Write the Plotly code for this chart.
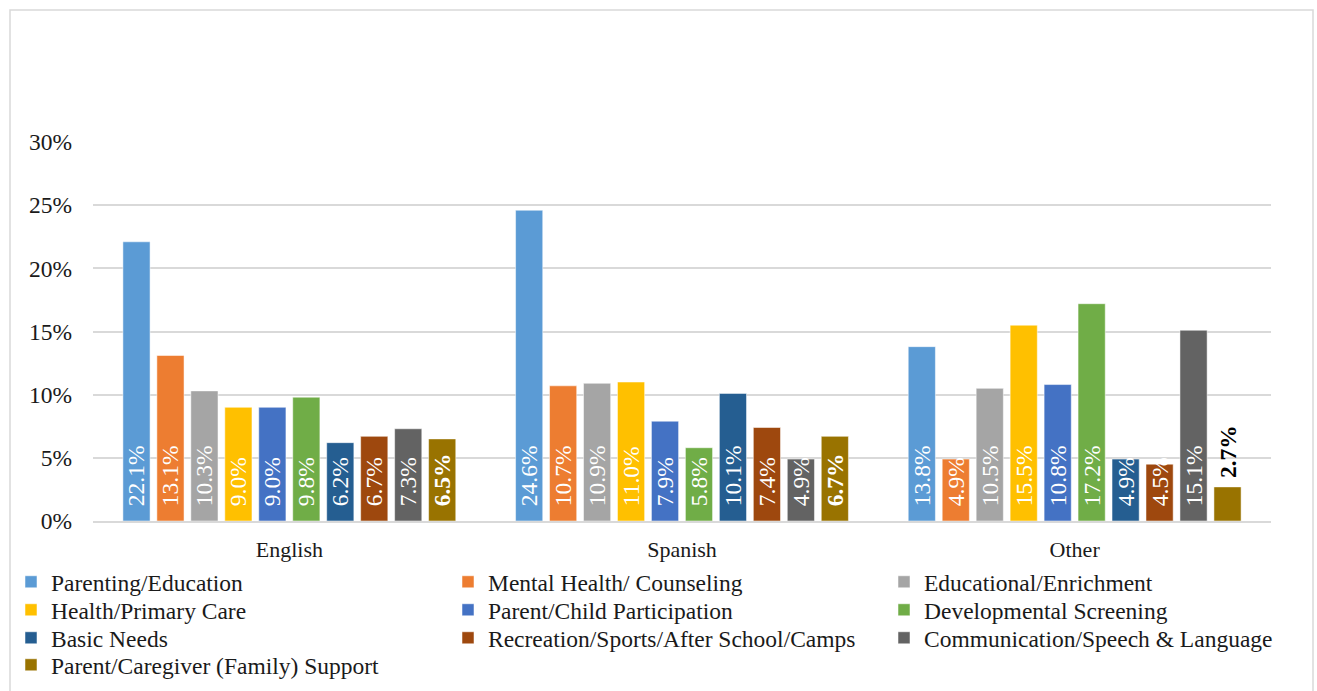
import plotly.graph_objects as go

categories = ["English", "Spanish", "Other"]
series_names = [
    "Parenting/Education",
    "Mental Health/ Counseling",
    "Educational/Enrichment",
    "Health/Primary Care",
    "Parent/Child Participation",
    "Developmental Screening",
    "Basic Needs",
    "Recreation/Sports/After School/Camps",
    "Communication/Speech & Language",
    "Parent/Caregiver (Family) Support",
]
parenting_education = [22.1, 24.6, 13.8]
mental_health = [13.1, 10.7, 4.9]
educational_enrichment = [10.3, 10.9, 10.5]
health_primary = [9.0, 11.0, 15.5]
parent_child = [9.0, 7.9, 10.8]
developmental = [9.8, 5.8, 17.2]
basic_needs = [6.2, 10.1, 4.9]
recreation = [6.7, 7.4, 4.5]
communication = [7.3, 4.9, 15.1]
caregiver_support = [6.5, 6.7, 2.7]
series_values = [parenting_education, mental_health, educational_enrichment,
                 health_primary, parent_child, developmental, basic_needs,
                 recreation, communication, caregiver_support]
colors = ["#5B9BD5", "#ED7D31", "#A5A5A5", "#FFC000", "#4472C4",
          "#70AD47", "#255E91", "#9E480E", "#636363", "#997300"]
tick_vals = [0, 5, 10, 15, 20, 25, 30]
tick_text = ["0%", "5%", "10%", "15%", "20%", "25%", "30%"]

FONT = "Liberation Serif"
FS = 23.5
W, H = 1317, 691
L, R, T, B = 93, 1271, 142, 521
NB = "\u00a0"

def fx(p):
    return p / W

def fy(p):
    return 1 - p / H

# legend layout: text start x per column, row centre y per row
col_text_x = [52, 489, 925]
row_y = [582, 610, 638, 665]

fig = go.Figure()
legend_layouts = {}
for i, (name, vals, col) in enumerate(zip(series_names, series_values, colors)):
    last = i == len(series_names) - 1
    positions = ["outside" if v < 3.5 else "inside" for v in vals]
    labels = [(NB if p == "outside" else NB * 2) + f"{v:.1f}%"
              for v, p in zip(vals, positions)]
    lname = "legend" if i == 0 else f"legend{i + 1}"
    fig.add_trace(go.Bar(
        name=name, x=categories, y=vals,
        marker=dict(color=col, line=dict(color="rgba(255,255,255,0.5)", width=1)),
        text=labels,
        textposition=positions,
        insidetextanchor="start",
        textangle=-90,
        textfont=dict(family=FONT, size=FS, color="white",
                      weight="bold" if last else "normal"),
        outsidetextfont=dict(family=FONT, size=FS, color="black",
                             weight="bold" if last else "normal"),
        cliponaxis=False,
        legend=lname,
        hoverinfo="skip",
    ))
    legend_layouts[lname] = dict(
        x=fx(col_text_x[i % 3] - 41), y=fy(row_y[i // 3]),
        xanchor="left", yanchor="middle", orientation="v",
        font=dict(family=FONT, size=FS, color="#1a1a1a"),
        bgcolor="rgba(0,0,0,0)", itemwidth=30,
    )

fig.update_layout(
    width=W, height=H,
    margin=dict(l=0, r=0, t=0, b=0, pad=0),
    paper_bgcolor="white", plot_bgcolor="white",
    barmode="group", bargap=0.135, bargroupgap=0.2,
    uniformtext=dict(minsize=FS, mode="show"),
    font=dict(family=FONT, size=FS, color="#1a1a1a"),
    showlegend=True,
    xaxis=dict(domain=[fx(L), fx(R)], showgrid=False, showline=True,
               linecolor="#d9d9d9", linewidth=1.5, automargin=False,
               ticks="", tickfont=dict(family=FONT, size=22, color="#1a1a1a"),
               ticklabelstandoff=8),
    yaxis=dict(domain=[fy(B), fy(T)], range=[0, 30], tickvals=tick_vals,
               ticktext=tick_text, automargin=False,
               showgrid=True, gridcolor="#d9d9d9", gridwidth=1.5,
               zeroline=False, showline=False, ticks="",
               tickfont=dict(family=FONT, size=FS, color="#1a1a1a"),
               ticklabelstandoff=20),
    shapes=[dict(type="rect", xref="paper", yref="paper",
                 x0=fx(10), x1=fx(1313), y0=fy(700), y1=fy(10),
                 line=dict(color="#d9d9d9", width=1.5), fillcolor="rgba(0,0,0,0)",
                 layer="below")],
    **legend_layouts,
)

fig.write_html("out.html", config={"displayModeBar": False},
               post_script="document.body.style.margin='0';document.body.style.overflow='hidden';")
